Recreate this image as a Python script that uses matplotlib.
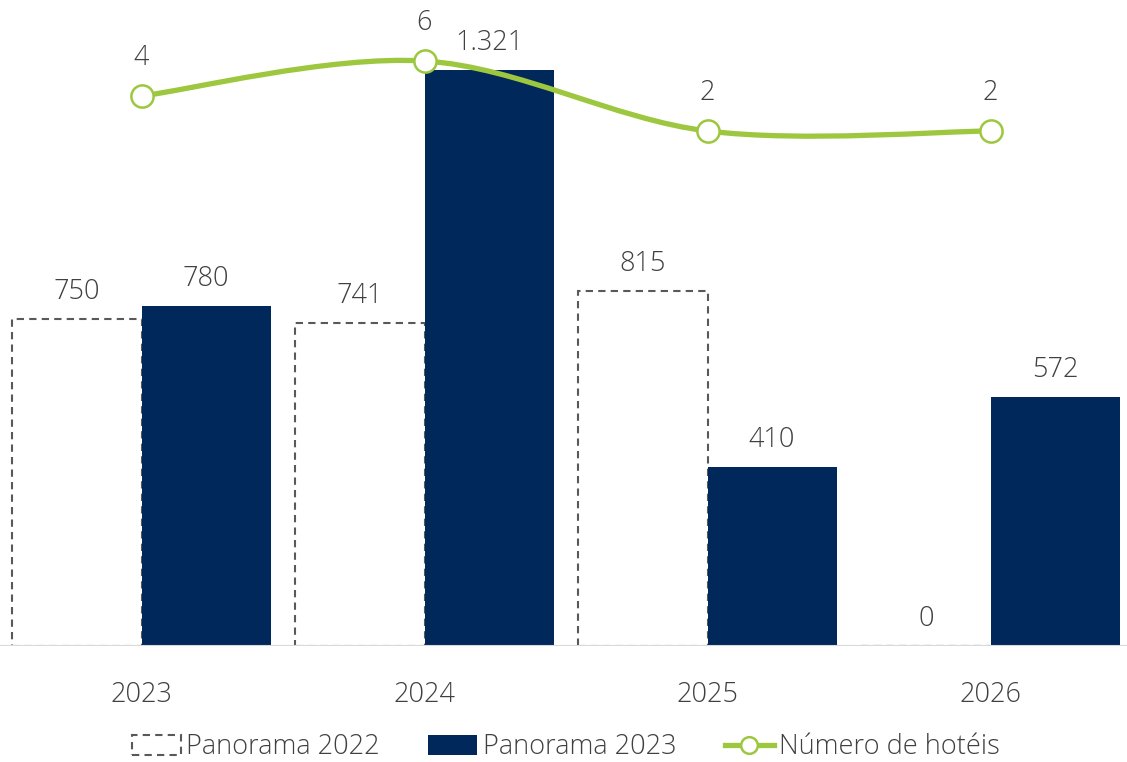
import matplotlib.pyplot as plt
import numpy as np
from matplotlib.path import Path
from matplotlib.patches import PathPatch, Patch
from matplotlib.lines import Line2D

plt.rcParams['font.family'] = ['Open Sans', 'DejaVu Sans']
plt.rcParams['font.weight'] = 'light'

anos = ['2023', '2024', '2025', '2026']
panorama_2022 = [750, 741, 815, 0]
panorama_2023 = [780, 1321, 410, 572]
num_hoteis = [4, 6, 2, 2]

azul = '#00285A'
verde = '#9DC73F'
cinza_txt = '#404040'
fs = 19.5


def fmt(v):
    # separador de milhar com ponto
    return f"{v:,}".replace(',', '.')


fig = plt.figure(figsize=(11.27, 7.62), dpi=100)
ax = fig.add_axes([0, 116 / 762, 1, 636 / 762])
ax2 = ax.twinx()

x = np.arange(len(anos))
w = 0.456

ax.bar(x - w / 2, panorama_2022, w, facecolor='white', edgecolor='#595959',
       linestyle=(0, (3.5, 2.5)), linewidth=1.5, zorder=2)
ax.bar(x + w / 2, panorama_2023, w, color=azul, zorder=2)

for xi, v in zip(x - w / 2, panorama_2022):
    ax.annotate(fmt(v), (xi, v), xytext=(0, 19.5), textcoords='offset points',
                ha='center', va='center', fontsize=fs, color=cinza_txt)
for xi, v in zip(x + w / 2, panorama_2023):
    ax.annotate(fmt(v), (xi, v), xytext=(0, 19.5), textcoords='offset points',
                ha='center', va='center', fontsize=fs, color=cinza_txt)

ax.axhline(0, color='#d9d9d9', linewidth=1.5, zorder=3)

ax.set_xlim(-0.5, -0.5 + 1127 / 283)
ax.set_ylim(0, 636 / 0.436)
ax.set_xticks(x)
ax.set_xticklabels(anos, fontsize=fs, color=cinza_txt)
ax.tick_params(axis='x', length=0, pad=25)
ax.set_yticks([])
ax2.set_yticks([])
for a in (ax, ax2):
    for s in a.spines.values():
        s.set_visible(False)

# linha suavizada (bezier estilo Excel)
ax2.set_ylim(-480 / 17.5, 156 / 17.5)
pts = np.column_stack([x, num_hoteis]).astype(float)
n = len(pts)
verts = [pts[0]]
codes = [Path.MOVETO]
for i in range(n - 1):
    p0 = pts[max(i - 1, 0)]
    p1 = pts[i]
    p2 = pts[i + 1]
    p3 = pts[min(i + 2, n - 1)]
    c1 = p1 + (p2 - p0) / 6
    c2 = p2 - (p3 - p1) / 6
    verts += [c1, c2, p2]
    codes += [Path.CURVE4] * 3
ax2.add_patch(PathPatch(Path(verts, codes), facecolor='none', edgecolor=verde,
                        linewidth=3.8, capstyle='round', zorder=4))
ax2.plot(x, num_hoteis, linestyle='none', marker='o', markersize=16,
         markerfacecolor='white', markeredgecolor=verde, markeredgewidth=1.8, zorder=5)
for xi, v in zip(x, num_hoteis):
    ax2.annotate(str(v), (xi, v), xytext=(0, 27.5), textcoords='offset points',
                 ha='center', va='center', fontsize=fs, color=cinza_txt)

handles = [
    Patch(facecolor='white', edgecolor='#595959', linestyle=(0, (3.5, 2.5)), linewidth=1.5),
    Patch(facecolor=azul),
    Line2D([0], [0], color=verde, linewidth=3.8, marker='o', markersize=12,
           markerfacecolor='white', markeredgecolor=verde, markeredgewidth=1.8),
]
fig.legend(handles, ['Panorama 2022', 'Panorama 2023', 'Número de hotéis'],
           loc='center', bbox_to_anchor=(0.502, 14.5 / 762), ncol=3, frameon=False,
           fontsize=fs, labelcolor=cinza_txt, handlelength=1.8, handleheight=0.8,
           handletextpad=0.2, columnspacing=1.8)

fig.savefig('out.png', dpi=100)
